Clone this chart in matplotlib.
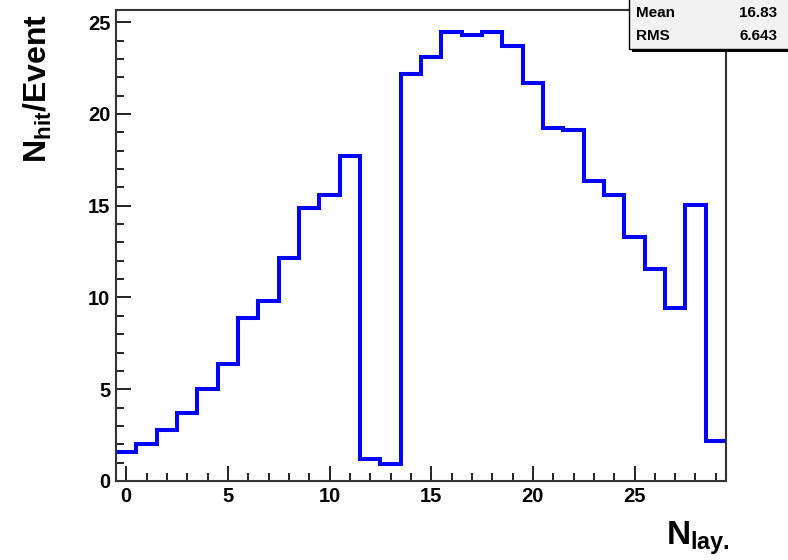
import numpy as np
import matplotlib
matplotlib.use("Agg")
import matplotlib.pyplot as plt
from matplotlib.patches import Rectangle

plt.rcParams["font.family"] = ["Liberation Sans", "DejaVu Sans"]
plt.rcParams["mathtext.fontset"] = "custom"
plt.rcParams["mathtext.rm"] = "Liberation Sans:bold"
plt.rcParams["mathtext.bf"] = "Liberation Sans:bold"

# hits per event for each layer bin
n_lay = np.arange(0, 30)
hits = [1.58, 2.0, 2.8, 3.72, 5.03, 6.35, 8.86, 9.82, 12.15, 14.86,
        15.56, 17.7, 1.18, 0.95, 22.17, 23.1, 24.44, 24.31, 24.44, 23.72,
        21.67, 19.24, 19.13, 16.34, 15.56, 13.3, 11.54, 9.44, 15.04, 2.17]
stat_names = ["Mean", "RMS"]
stat_values = ["16.83", "6.643"]

edges = np.append(n_lay - 0.5, n_lay[-1] + 0.5)

fig = plt.figure(figsize=(7.88, 5.60), dpi=100)
ax = fig.add_axes([116/788, 79/560, 610/788, 471/560])

ax.stairs(hits, edges, baseline=None, color="#0000ff", linewidth=2.9)

ax.set_xlim(edges[0], edges[-1])
ax.set_ylim(0, 1.05 * max(hits))

ax.set_xticks(np.arange(0, 30, 5))
ax.set_xticks(np.arange(0, 30, 1), minor=True)
ax.set_yticks(np.arange(0, 26, 5))
ax.set_yticks(np.arange(0, 26, 1), minor=True)
ax.tick_params(which="both", direction="in", top=False, right=False,
               width=1.4, color="#222222")
ax.tick_params(which="major", length=10.5)
ax.tick_params(which="minor", length=6)
ax.tick_params(axis="x", pad=4)
ax.tick_params(axis="y", pad=4)
for lab in ax.get_xticklabels() + ax.get_yticklabels():
    lab.set_fontsize(14.5)
    lab.set_fontweight("bold")

for sp in ax.spines.values():
    sp.set_linewidth(1.5)
    sp.set_color("#333333")

fig.text(38/788, 1 - 88/560, r"$\mathregular{N_{hit}}$/Event", rotation=90,
         ha="center", va="center", fontsize=23, fontweight="bold")
fig.text(730/788, 1 - 538/560, r"$\mathregular{N_{lay.}}$", ha="right",
         va="center", fontsize=24, fontweight="bold")

# stat box in the top right corner
bx0, by0 = 629/788, 1 - 49/560
fig.patches.append(Rectangle((bx0 + 3/788, by0 - 3/560), 0.3, 0.2,
                             transform=fig.transFigure, facecolor="black",
                             edgecolor="none", zorder=10))
fig.patches.append(Rectangle((bx0, by0), 0.3, 0.2, transform=fig.transFigure,
                             facecolor="#f2f2f2", edgecolor="black",
                             linewidth=1.0, zorder=11))
for i, (nm, val) in enumerate(zip(stat_names, stat_values)):
    yy = 1 - (13 + 23 * i) / 560
    fig.text(636/788, yy, nm, ha="left", va="center", fontsize=11,
             fontweight="bold", zorder=12)
    fig.text(777/788, yy, val, ha="right", va="center", fontsize=11,
             fontweight="bold", zorder=12)

fig.savefig("out.png", dpi=100)
